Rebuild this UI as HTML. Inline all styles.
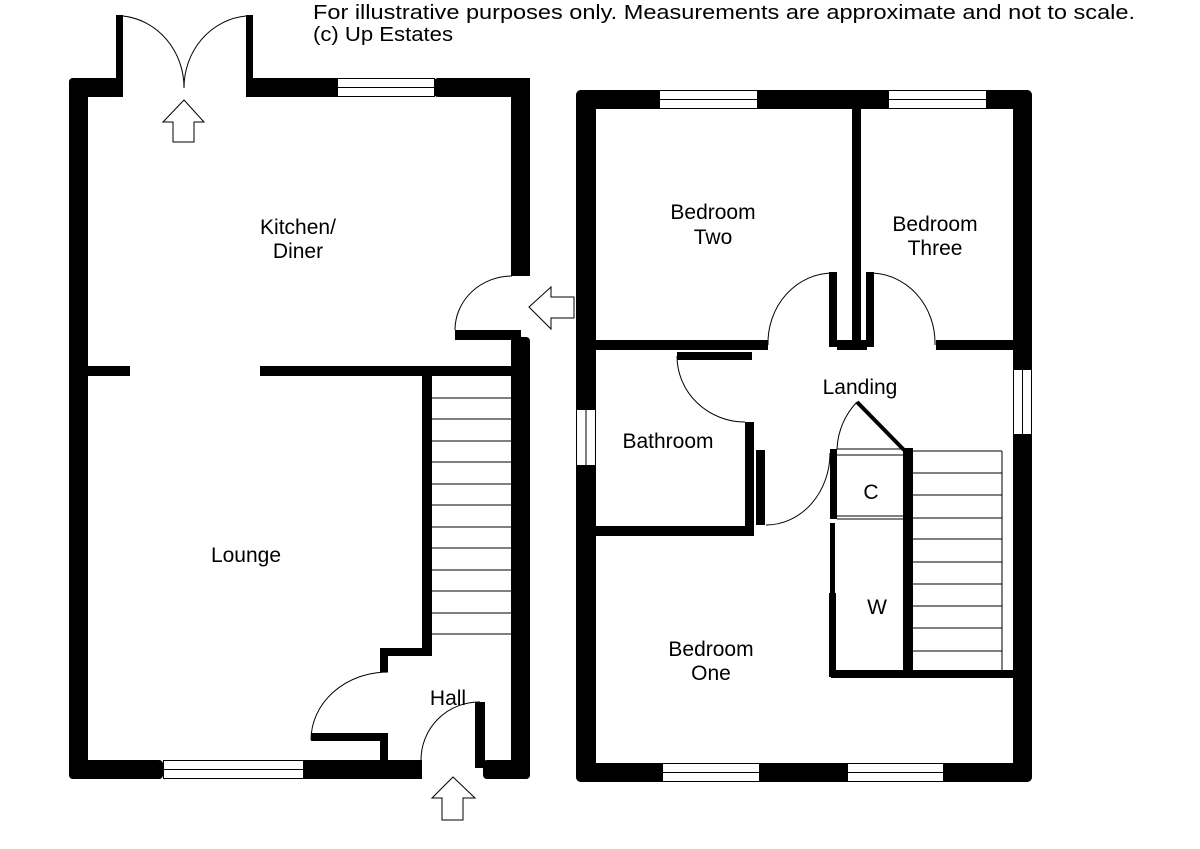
<!DOCTYPE html>
<html><head><meta charset="utf-8"><style>
html,body{margin:0;padding:0;background:#fff;}
svg{display:block;}
text{font-family:"Liberation Sans",sans-serif;fill:#000;}
</style></head><body>
<svg width="1200" height="849" viewBox="0 0 1200 849" xmlns="http://www.w3.org/2000/svg">
<text x="313" y="19" font-size="20" textLength="822" lengthAdjust="spacingAndGlyphs">For illustrative purposes only. Measurements are approximate and not to scale.</text>
<text x="313" y="41" font-size="20" textLength="140" lengthAdjust="spacingAndGlyphs">(c) Up Estates</text>

<!-- LEFT PLAN -->
<g fill="#000">
<rect x="69" y="78" width="19" height="701" rx="4"/>
<rect x="69" y="78" width="50" height="19" rx="4"/>
<rect x="116" y="15" width="7" height="82"/>
<rect x="246" y="15" width="7" height="82"/>
<rect x="250" y="78" width="88" height="19"/>
<rect x="434" y="78" width="96" height="19" rx="4"/>
<rect x="511" y="78" width="19" height="198"/>
<rect x="455" y="330" width="66" height="10"/>
<rect x="511" y="337" width="19" height="442" rx="4"/>
<rect x="88" y="366" width="42" height="10"/>
<rect x="260" y="366" width="252" height="10"/>
<rect x="422" y="376" width="10" height="280"/>
<rect x="380" y="648" width="52" height="8"/>
<rect x="380" y="648" width="8" height="24"/>
<rect x="311" y="733" width="77" height="8"/>
<rect x="380" y="733" width="8" height="30"/>
<rect x="69" y="760" width="94" height="19" rx="4"/>
<rect x="303" y="760" width="119" height="19"/>
<rect x="475" y="702" width="10" height="66"/>
<rect x="483" y="760" width="47" height="19" rx="4"/>
</g>
<g fill="#fff" stroke="#000" stroke-width="1">
<rect x="337.5" y="78.5" width="97" height="18"/>
<line x1="337.5" y1="87.5" x2="434.5" y2="87.5"/>
<rect x="163.5" y="760.5" width="140" height="18"/>
<line x1="163.5" y1="769.5" x2="303.5" y2="769.5"/>
</g>
<g fill="none" stroke="#000" stroke-width="1">
<path d="M123 16 A68 72 0 0 1 184 88"/>
<path d="M246 16 A68 72 0 0 0 184 88"/>
<path d="M512 276 A57 54 0 0 0 455 330"/>
<path d="M388 672 A77 68 0 0 0 311 740"/>
<path d="M421 760 A58 58 0 0 1 480 702"/>
</g>
<g stroke="#000" stroke-width="1">
<line x1="432" y1="398" x2="512" y2="398"/><line x1="432" y1="419" x2="512" y2="419"/>
<line x1="432" y1="441" x2="512" y2="441"/><line x1="432" y1="462" x2="512" y2="462"/>
<line x1="432" y1="484" x2="512" y2="484"/><line x1="432" y1="505" x2="512" y2="505"/>
<line x1="432" y1="527" x2="512" y2="527"/><line x1="432" y1="548" x2="512" y2="548"/>
<line x1="432" y1="570" x2="512" y2="570"/><line x1="432" y1="591" x2="512" y2="591"/>
<line x1="432" y1="613" x2="512" y2="613"/><line x1="432" y1="634" x2="512" y2="634"/>
</g>
<g fill="#fff" stroke="#000" stroke-width="1">
<path d="M184 100 L204 122 L194 122 L194 142 L173 142 L173 122 L163 122 Z"/>
<path d="M529 307 L551 287 L551 297 L574 297 L574 318 L551 318 L551 329 Z"/>
<path d="M453 777 L475 798 L463 798 L463 820 L442 820 L442 798 L432 798 Z"/>
</g>
<text x="298" y="234" font-size="21" text-anchor="middle">Kitchen/</text>
<text x="298" y="258" font-size="21" text-anchor="middle">Diner</text>
<text x="246" y="562" font-size="21" text-anchor="middle">Lounge</text>
<text x="448" y="705" font-size="21" text-anchor="middle">Hall</text>

<!-- RIGHT PLAN -->
<g fill="#000">
<rect x="576" y="90" width="20" height="692" rx="5"/>
<rect x="576" y="90" width="456" height="19" rx="5"/>
<rect x="1013" y="90" width="19" height="692" rx="5"/>
<rect x="576" y="763" width="456" height="19" rx="5"/>
<rect x="852" y="109" width="9" height="241"/>
<rect x="829" y="272" width="8" height="75"/>
<rect x="866" y="272" width="8" height="75"/>
<rect x="837" y="340" width="30" height="10"/>
<rect x="596" y="340" width="172" height="10"/>
<rect x="936" y="340" width="77" height="10"/>
<rect x="677" y="352" width="75" height="8"/>
<rect x="745" y="422" width="9" height="114"/>
<rect x="756" y="450" width="9" height="75"/>
<rect x="596" y="526" width="158" height="10"/>
<rect x="830" y="449" width="7" height="70"/>
<rect x="830" y="523" width="5" height="70"/>
<rect x="829" y="593" width="7" height="84"/>
<rect x="831" y="670" width="182" height="8"/>
<rect x="903" y="448" width="10" height="230"/>
</g>
<g fill="#fff" stroke="#000" stroke-width="1">
<rect x="659.5" y="90.5" width="98" height="18"/><line x1="659.5" y1="99.5" x2="757.5" y2="99.5"/>
<rect x="888.5" y="90.5" width="98" height="18"/><line x1="888.5" y1="99.5" x2="986.5" y2="99.5"/>
<rect x="662.5" y="763.5" width="97" height="18"/><line x1="662.5" y1="772.5" x2="759.5" y2="772.5"/>
<rect x="847.5" y="763.5" width="96" height="18"/><line x1="847.5" y1="772.5" x2="943.5" y2="772.5"/>
<rect x="576.5" y="409.5" width="19" height="56"/><line x1="586" y1="409.5" x2="586" y2="465.5"/>
<rect x="1013.5" y="369.5" width="18" height="65"/><line x1="1022.5" y1="369.5" x2="1022.5" y2="434.5"/>
</g>
<g fill="none" stroke="#000" stroke-width="1">
<path d="M768 345 A65 70 0 0 1 833 273"/>
<path d="M870 273 A65 70 0 0 1 935 345"/>
<path d="M677 356 A68 66 0 0 0 745 422"/>
<path d="M766 525 A64 72 0 0 0 830 453"/>
<path d="M837 449 A66 70 0 0 1 857 402"/>
<line x1="837" y1="449" x2="903" y2="449"/><line x1="837" y1="455" x2="903" y2="455"/>
<line x1="837" y1="516" x2="903" y2="516"/><line x1="837" y1="519" x2="903" y2="519"/>
<line x1="1002" y1="451" x2="1002" y2="670"/>
</g>
<line x1="857" y1="402" x2="904" y2="450" stroke="#000" stroke-width="4"/>
<g stroke="#000" stroke-width="1">
<line x1="913" y1="451" x2="1002" y2="451"/><line x1="913" y1="473" x2="1002" y2="473"/>
<line x1="913" y1="495" x2="1002" y2="495"/><line x1="913" y1="518" x2="1002" y2="518"/>
<line x1="913" y1="539" x2="1002" y2="539"/><line x1="913" y1="562" x2="1002" y2="562"/>
<line x1="913" y1="584" x2="1002" y2="584"/><line x1="913" y1="606" x2="1002" y2="606"/>
<line x1="913" y1="628" x2="1002" y2="628"/><line x1="913" y1="651" x2="1002" y2="651"/>
</g>
<text x="713" y="219" font-size="21" text-anchor="middle">Bedroom</text>
<text x="713" y="244" font-size="21" text-anchor="middle">Two</text>
<text x="935" y="231" font-size="21" text-anchor="middle">Bedroom</text>
<text x="935" y="255" font-size="21" text-anchor="middle">Three</text>
<text x="860" y="394" font-size="21" text-anchor="middle">Landing</text>
<text x="668" y="448" font-size="21" text-anchor="middle">Bathroom</text>
<text x="871" y="499" font-size="21" text-anchor="middle">C</text>
<text x="877" y="614" font-size="21" text-anchor="middle">W</text>
<text x="711" y="656" font-size="21" text-anchor="middle">Bedroom</text>
<text x="711" y="680" font-size="21" text-anchor="middle">One</text>
</svg>
</body></html>
